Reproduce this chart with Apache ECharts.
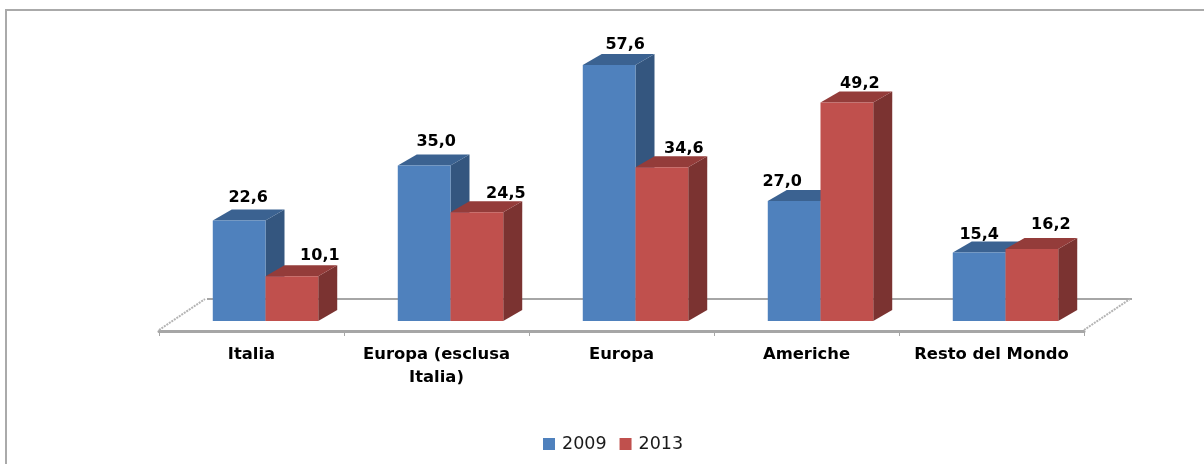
<!DOCTYPE html>
<html><head><meta charset="utf-8">
<style>html,body{margin:0;padding:0;background:#fff}#c{width:1204px;height:464px}</style>
<script src="https://cdn.jsdelivr.net/npm/echarts@6/dist/echarts.min.js"></script>
</head><body><div id="c"></div>
<script>
const categories = ['Italia', 'Europa (esclusa\nItalia)', 'Europa', 'Americhe', 'Resto del Mondo'];
const values2009 = [22.6, 35.0, 57.6, 27.0, 15.4];
const values2013 = [10.1, 24.5, 34.6, 49.2, 16.2];
// label nudges relative to the bar's top-centre [dx, dy]
const nudge2009 = [[9,-23],[12,-24],[16,-20],[-12,-19],[0,-18]];
const nudge2013 = [[28,-20],[29,-18],[22,-18],[13,-19],[19,-24]];

const BAR_RATIO = 0.285, SHIFT = 14, DX = 19, DY = 11;
const FONT = '"DejaVu Sans", Verdana, sans-serif';

function barRenderer(side, colors, nudges) {
  return function (params, api) {
    const i = api.value(0), v = api.value(1);
    const band = api.size([1, 0])[0], w = band * BAR_RATIO;
    const top = api.coord([i, v]), base = api.coord([i, 0]);
    const x0 = top[0] + SHIFT + (side < 0 ? -w : 0), x1 = x0 + w;
    const y0 = top[1], y1 = base[1];
    const n = nudges[i];
    return { type: 'group', children: [
      { type: 'polygon', shape: { points: [[x1,y0],[x1+DX,y0-DY],[x1+DX,y1-DY],[x1,y1]] }, style: { fill: colors.side } },
      { type: 'polygon', shape: { points: [[x0,y0],[x0+DX,y0-DY],[x1+DX,y0-DY],[x1,y0]] }, style: { fill: colors.top } },
      { type: 'rect', shape: { x: x0, y: y0, width: w, height: y1 - y0 }, style: { fill: colors.front } },
      { type: 'text', z2: 100, style: { x: (x0 + x1) / 2 + n[0], y: y0 + n[1], text: v.toFixed(1).replace('.', ','),
        align: 'center', verticalAlign: 'middle', fill: '#000', font: 'bold 16px ' + FONT } }
    ] };
  };
}
function floorRenderer(params, api) {
  const n = categories.length, band = api.size([1, 0])[0];
  const a = api.coord([0, 0]), b = api.coord([n - 1, 0]);
  const L = a[0] - band / 2, R = b[0] + band / 2, y = a[1];
  const line = { stroke: '#a6a6a6', lineWidth: 2, fill: null };
  const side = { stroke: '#b4b4b4', lineWidth: 2, lineDash: [2, 1], fill: null };
  return { type: 'group', children: [
    { type: 'polyline', shape: { points: [[L+48,y-22],[R+48,y-22]] }, style: line },
    { type: 'polyline', shape: { points: [[L,y+9],[L+46,y-22]] }, style: side },
    { type: 'polyline', shape: { points: [[R,y+9],[R+46,y-22]] }, style: side }
  ] };
}
const chart = echarts.init(document.getElementById('c'), null, { renderer: 'canvas' });
chart.setOption({
  animation: false,
  backgroundColor: '#fff',
  graphic: [{ type: 'rect', z: -1, shape: { x: 6, y: 10, width: 1300, height: 600 }, style: { fill: '#fff', stroke: '#aaaaaa', lineWidth: 2 } }],
  legend: { left: 538, top: 430, itemWidth: 12, itemHeight: 12, itemGap: 13, icon: 'rect', data: ['2009', '2013'],
    textStyle: { fontFamily: FONT, fontSize: 17.5, color: '#1a1a1a', padding: [1, 0, 0, 2] } },
  grid: { left: 159, width: 925, top: 10, height: 311 },
  xAxis: { type: 'category', data: categories, offset: 10, boundaryGap: true,
    axisLine: { onZero: false, lineStyle: { color: '#a6a6a6', width: 3 } },
    axisTick: { show: true, alignWithLabel: false, length: 5, lineStyle: { color: '#a6a6a6', width: 1 } },
    axisLabel: { interval: 0, margin: 12, color: '#000', fontFamily: FONT, fontWeight: 'bold', fontSize: 16.4, lineHeight: 23 } },
  yAxis: { type: 'value', min: 0, max: 70, show: false, splitLine: { show: false } },
  series: [
    { type: 'custom', silent: true, z: 1, data: [[0, 0]], encode: { x: 0, y: 1 }, renderItem: floorRenderer },
    { name: '2009', type: 'custom', z: 2, itemStyle: { color: '#4F81BD' }, encode: { x: 0, y: 1 },
      data: values2009.map((v, i) => [i, v]),
      renderItem: barRenderer(-1, { front: '#4F81BD', side: '#34567F', top: '#3B6291' }, nudge2009) },
    { name: '2013', type: 'custom', z: 3, itemStyle: { color: '#C0504D' }, encode: { x: 0, y: 1 },
      data: values2013.map((v, i) => [i, v]),
      renderItem: barRenderer(1, { front: '#C0504D', side: '#7B3331', top: '#943C3A' }, nudge2013) }
  ]
});
</script></body></html>
